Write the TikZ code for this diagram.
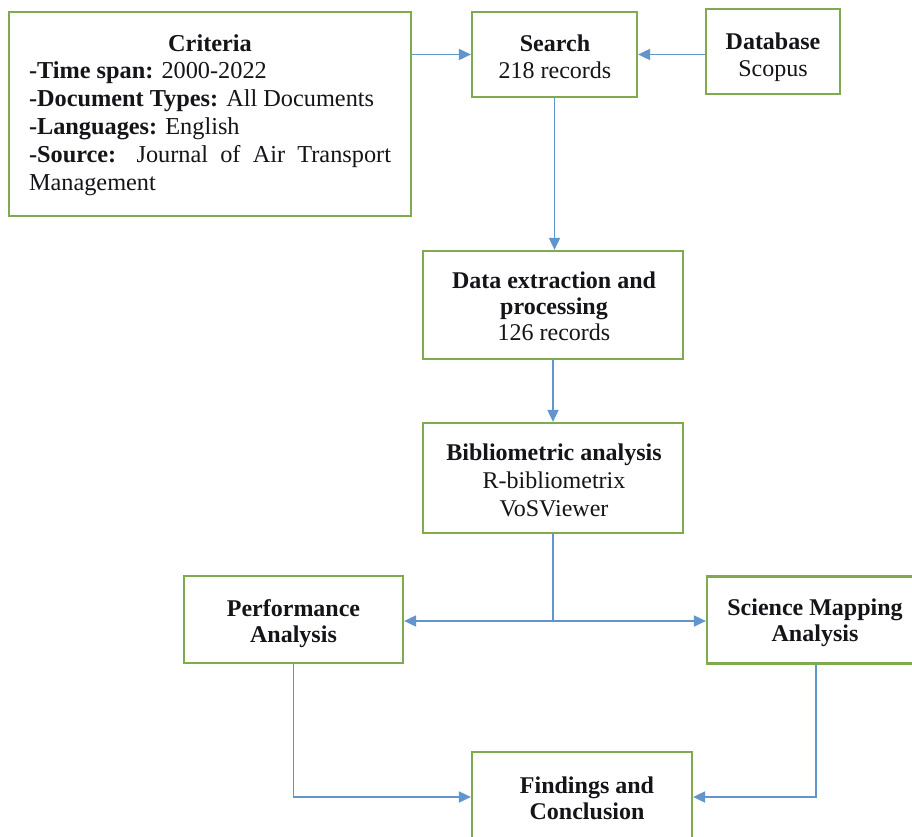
\documentclass[tikz,border=0pt]{standalone}
\usepackage{fontspec}
\setmainfont{Liberation Serif}
\usetikzlibrary{arrows.meta}
\definecolor{boxgreen}{RGB}{128,170,78}
\definecolor{arrowblue}{RGB}{96,150,205}
\definecolor{txt}{RGB}{20,20,25}
\begin{document}
\begin{tikzpicture}[x=1pt,y=-1pt,
  box/.style={draw=boxgreen,line width=2.2pt,fill=white,rectangle,inner sep=0pt},
  lbl/.style={align=center,text=txt,inner sep=0pt,font=\fontsize{24}{26}\selectfont},
  conn/.style={draw=arrowblue,line width=1.8pt},
  arr/.style={conn,-{Triangle[length=12pt,width=11pt]}}]
\useasboundingbox[fill=white] (0,0) rectangle (912,837);
% boxes
\node[box,minimum width=402pt,minimum height=204pt] (crit) at (210,114) {};
\node[box,minimum width=165pt,minimum height=85pt] (search) at (554.5,54.5) {};
\node[box,minimum width=134pt,minimum height=85pt] (db) at (773,51.5) {};
\node[box,minimum width=260pt,minimum height=108pt] (data) at (553,305) {};
\node[box,minimum width=260pt,minimum height=110pt] (bib) at (553,478) {};
\node[box,minimum width=219pt,minimum height=87pt] (perf) at (293.5,619.5) {};
\node[box,minimum width=218pt,minimum height=87pt] (sci) at (816,620) {};
\node[box,minimum width=220pt,minimum height=90pt] (find) at (582,797) {};
% texts
\node[lbl,text width=362pt,align=justify,font=\fontsize{24.3}{27.8}\selectfont,
  anchor=north] (crittext) at (210,34)
  {\makebox[\linewidth]{\textbf{Criteria}}\\
   \textbf{-Time span:} 2000-2022\\
   \textbf{-Document Types:} All Documents\\
   \textbf{-Languages:} English\\
   \textbf{-Source:} Journal of Air Transport Management};
\node[lbl] (searchtext) at (555,57) {\textbf{Search}\\[1pt]218 records};
\node[lbl] (dbtext) at (773,57) {\textbf{Database}\\[1pt]Scopus};
\node[lbl] (datatext) at (554,306)
  {\textbf{Data extraction and}\\\textbf{processing}\\126 records};
\node[lbl] (bibtext) at (554,480)
  {\textbf{Bibliometric analysis}\\[2pt]R-bibliometrix\\[2pt]VoSViewer};
\node[lbl] (perftext) at (293.5,624) {\textbf{Performance}\\\textbf{Analysis}};
\node[lbl] (scitext) at (815,623) {\textbf{Science Mapping}\\\textbf{Analysis}};
\node[lbl] (findtext) at (587,798) {\textbf{Findings and}\\\textbf{Conclusion}};
\coordinate (split) at (553,621);
% connectors
\draw[arr] (crit.east |- search.west) -- (search.west);
\draw[arr] (db.west |- search.east) -- (search.east);
\draw[arr] (search.south) -- (search.south |- data.north);
\draw[arr] (data.south) -- (bib.north);
\draw[conn] (bib.south) -- (split);
\draw[arr] (split) -- (split -| perf.east);
\draw[arr] (split) -- (split -| sci.west);
\draw[arr] (perf.south) -- (perf.south |- find.west) -- (find.west);
\draw[arr] (sci.south) -- (sci.south |- find.east) -- (find.east);
\end{tikzpicture}
\end{document}
